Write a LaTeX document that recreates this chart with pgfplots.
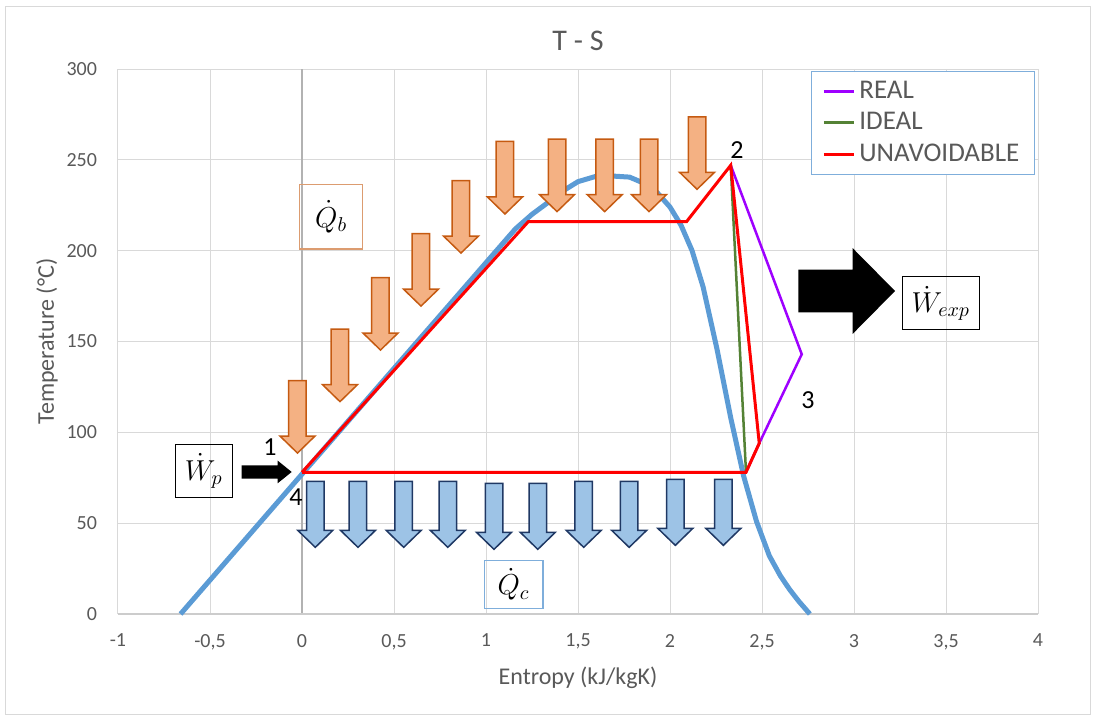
\documentclass[border=0pt]{standalone}
\usepackage{pgfplots}
\pgfplotsset{compat=1.18}
\usepackage{fontspec}
\setmainfont{Carlito}
\usetikzlibrary{calc}
\definecolor{tgray}{HTML}{595959}
\definecolor{gridc}{HTML}{D9D9D9}
\definecolor{satblue}{HTML}{5B9BD5}
\definecolor{realp}{HTML}{9E00FF}
\definecolor{idealg}{HTML}{548235}
\definecolor{orfill}{HTML}{F4B183}
\definecolor{ordraw}{HTML}{C55A11}
\definecolor{blfill}{HTML}{9DC3E6}
\definecolor{bldraw}{HTML}{1F3864}
\definecolor{legb}{HTML}{7FAEDB}
\newcommand{\orarrow}[2]{\draw[fill=orfill,draw=ordraw,line width=0.75pt,line join=miter] (axis cs:#1,#2) -- ++(-8.75pt,8.5pt) -- ++(4.375pt,0pt) -- ++(0pt,27.75pt) -- ++(8.75pt,0pt) -- ++(0pt,-27.75pt) -- ++(4.375pt,0pt) -- cycle;}
\newcommand{\blarrow}[2]{\draw[fill=blfill,draw=bldraw,line width=0.75pt,line join=miter] (axis cs:#1,#2) -- ++(-8.75pt,8.5pt) -- ++(4.375pt,0pt) -- ++(0pt,24.5pt) -- ++(8.75pt,0pt) -- ++(0pt,-24.5pt) -- ++(4.375pt,0pt) -- cycle;}
\begin{document}
\begin{tikzpicture}
\begin{axis}[
  scale only axis, width=460pt, height=272.5pt,
  xmin=-1, xmax=4, ymin=0, ymax=300,
  xtick={-1,-0.5,...,4}, ytick={0,50,...,300},
  grid=major, major grid style={draw=gridc, line width=0.5pt},
  axis line style={draw=none}, major tick length=0pt,
  /pgf/number format/use comma, /pgf/number format/1000 sep={},
  /pgf/number format/assume math mode=true,
  ticklabel style={font=\fontsize{10}{12}\selectfont, text=tgray},
  xticklabel style={yshift=-6.5pt},
  yticklabel style={xshift=-7pt},
  xlabel={Entropy (kJ/kgK)}, ylabel={Temperature (°C)},
  label style={font=\fontsize{12}{14}\selectfont, text=tgray},
  xlabel style={at={(axis description cs:0.5,-0.1174)}, anchor=center},
  ylabel style={at={(axis description cs:-0.0772,0.5)}, anchor=center},
  clip=false,
  legend style={at={(axis description cs:0.753,0.997)}, anchor=north west, draw=legb, line width=0.6pt,
    font=\fontsize{13.5}{15}\selectfont, text=tgray, inner xsep=5.5pt, inner ysep=3pt, row sep=1.5pt,
    /tikz/every even column/.append style={column sep=1.5pt}},
  legend cell align=left,
  legend image code/.code={\draw[#1] (0pt,0pt) -- (15pt,0pt);},
]
\draw[draw=black!30, line width=0.6pt] (axis cs:0,0) -- (axis cs:0,300);
\draw[draw=black!20, line width=0.6pt] (axis cs:-1,0) -- (axis cs:4,0);
\addplot[satblue, line width=2.5pt, line join=round, forget plot] coordinates {
(-0.66,0) (0,77) (1.16,212) (1.25,220) (1.33,226) (1.42,233) (1.5,238) (1.6,241)
(1.7,241) (1.78,240.5) (1.85,237.5) (1.93,232) (2.0,224) (2.06,214) (2.12,200)
(2.18,180) (2.255,146) (2.33,108) (2.4,76) (2.47,51) (2.54,32) (2.6,21) (2.65,13.5) (2.7,7) (2.76,0)};
\addplot[realp, line width=1.25pt, line join=miter] coordinates {(2.33,247) (2.716,143) (2.485,94) (2.413,78)};
\addlegendentry{REAL}
\addplot[idealg, line width=1.25pt] coordinates {(2.33,247) (2.413,78)};
\addlegendentry{IDEAL}
\addplot[red, line width=1.5pt, line join=miter] coordinates {(0,78) (1.23,216) (2.09,216) (2.33,247) (2.485,94) (2.413,78) (0,78)};
\addlegendentry{UNAVOIDABLE}
\orarrow{-0.0245}{88.6}
\orarrow{0.2065}{116.9}
\orarrow{0.4266}{145.3}
\orarrow{0.6467}{169.5}
\orarrow{0.864}{198.7}
\orarrow{1.103}{220.2}
\orarrow{1.386}{221.5}
\orarrow{1.645}{221.5}
\orarrow{1.886}{221.5}
\orarrow{2.147}{233.8}
\blarrow{0.0723}{36.7}
\blarrow{0.3043}{36.7}
\blarrow{0.5527}{36.7}
\blarrow{0.7924}{36.7}
\blarrow{1.0435}{35.6}
\blarrow{1.2815}{35.6}
\blarrow{1.531}{36.7}
\blarrow{1.778}{36.7}
\blarrow{2.029}{37.8}
\blarrow{2.290}{37.8}
\fill[black] (axis cs:-0.056,78.2) -- ++(-7pt,5.65pt) -- ++(0pt,-2.3pt) -- ++(-18pt,0pt) -- ++(0pt,-6.7pt) -- ++(18pt,0pt) -- ++(0pt,-2.3pt) -- cycle;
\fill[black] (axis cs:3.223,177.8) -- ++(-21.15pt,21.4pt) -- ++(0pt,-10.75pt) -- ++(-27.2pt,0pt) -- ++(0pt,-21.3pt) -- ++(27.2pt,0pt) -- ++(0pt,-10.75pt) -- cycle;
\node[draw=black, line width=0.5pt, minimum width=38.5pt, minimum height=26.5pt, inner sep=0pt, font=\fontsize{14}{16}\selectfont] at (axis cs:3.472,171.0) {$\dot{W}_{exp}$};
\node[draw=black, line width=0.5pt, minimum width=28.7pt, minimum height=26.7pt, inner sep=0pt, font=\fontsize{14}{16}\selectfont] at (axis cs:-0.534,78.7) {$\dot{W}_{p}$};
\node[draw=ordraw!60, line width=0.6pt, minimum width=31.5pt, minimum height=32.3pt, inner sep=0pt, font=\fontsize{14}{16}\selectfont] at (axis cs:0.1587,218.7) {$\dot{Q}_{b}$};
\node[draw=legb, line width=0.6pt, minimum width=29.3pt, minimum height=24.2pt, inner sep=0pt, font=\fontsize{14}{16}\selectfont] at (axis cs:1.150,16.2) {$\dot{Q}_{c}$};
\node[font=\fontsize{13}{15}\selectfont] at (axis cs:-0.174,91.9) {1};
\node[font=\fontsize{13}{15}\selectfont] at (axis cs:2.364,255.4) {2};
\node[font=\fontsize{13}{15}\selectfont] at (axis cs:2.75,117.8) {3};
\node[font=\fontsize{13}{15}\selectfont] at (axis cs:-0.033,64.4) {4};
\end{axis}
\node[font=\fontsize{15}{17}\selectfont, text=tgray, anchor=center] at (230pt,286.5pt) {T - S};
\draw[draw=gridc, line width=0.5pt] (-56pt,-50pt) rectangle (486pt,304pt);
\path (-59pt,-53pt) rectangle (489pt,307pt);
\end{tikzpicture}
\end{document}
